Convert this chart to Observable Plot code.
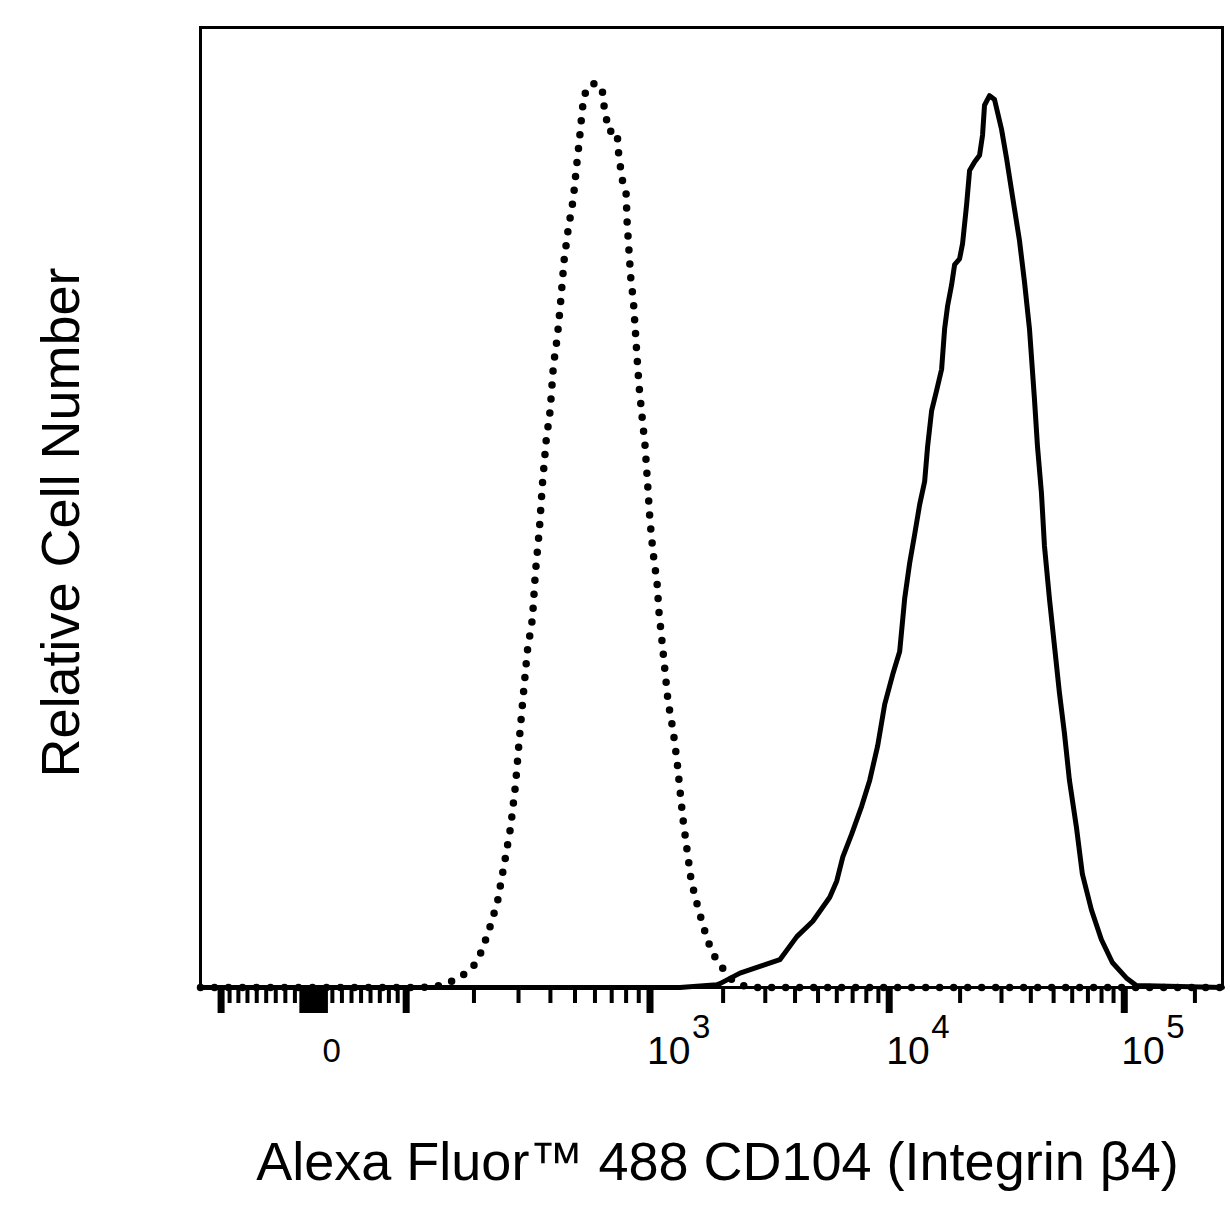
<!DOCTYPE html>
<html>
<head>
<meta charset="utf-8">
<script src="https://cdn.jsdelivr.net/npm/d3@7"></script>
<script src="https://cdn.jsdelivr.net/npm/@observablehq/plot@0.6"></script>
<style>
  html, body { margin: 0; padding: 0; background: #fff; }
  svg { display: block; }
</style>
</head>
<body>
<div id="chart"></div>
<script>
// ---- Data (fluorescence intensity vs relative cell number) ----
const isotypeFluor = [-126, 120, 145, 168, 193, 208, 228, 248, 266, 279,
  292, 302, 313, 325, 340, 349, 362, 372, 385, 399,
  411, 426, 437, 453, 470, 492, 505, 520, 534, 544,
  585, 641, 647, 665, 678, 736, 743, 757, 771, 800,
  808, 823, 838, 854, 870, 886, 903, 928, 955, 973,
  1000, 1029, 1068, 1088, 1120, 1152, 1185, 1242, 1290, 1327,
  1365, 1417, 1472, 1529, 1603, 1714, 1815, 1978, 2176, 2418,
  2800, 262144];
const isotypeCount = [0, 0, 0.2, 0.8, 1.8, 2.9, 5.7, 8.9, 13.4, 16.6,
  21.1, 25.8, 30.4, 35.1, 38.4, 43.1, 47.7, 52.4, 57.0, 60.1,
  64.8, 67.8, 70.9, 75.8, 79.0, 82.1, 85.1, 88.2, 91.4, 93.0,
  94.2, 93.8, 92.3, 90.7, 89.2, 89.2, 87.3, 85.7, 84.2, 82.7,
  79.6, 76.5, 73.4, 71.9, 68.8, 65.6, 62.6, 59.5, 56.4, 53.3,
  48.6, 45.3, 42.2, 39.1, 36.0, 32.9, 29.8, 26.8, 23.6, 20.5,
  17.5, 14.4, 11.3, 9.5, 7.6, 5.1, 3.5, 2.1, 0.8, 0.2,
  0, 0];

const cd104Fluor = [-126, 1327, 1886, 1941, 2351, 2931, 3453, 4070, 4752, 5603,
  5999, 6363, 6940, 7647, 8270, 8939, 9569, 10346, 11077, 11630,
  12211, 12824, 13464, 14140, 14560, 15141, 15897, 16691, 17188, 17699,
  18406, 18956, 19901, 20492, 21311, 21948, 23047, 24202, 24920, 25406,
  26680, 28017, 30009, 31514, 33414, 35784, 37579, 39466, 41440, 42679,
  44383, 45710, 47999, 50410, 52934, 55590, 58383, 62527, 66307, 72429,
  79866, 88959, 102025, 112528, 262144];
const cd104Count = [0, 0, 0.3, 0.4, 1.5, 2.3, 2.9, 5.3, 6.9, 9.4,
  11.1, 13.6, 16.0, 18.9, 21.6, 25.2, 29.5, 32.6, 35.0, 40.5,
  44.2, 47.2, 50.3, 52.7, 56.4, 60.1, 62.2, 64.4, 68.6, 71.0,
  73.2, 75.3, 75.9, 77.5, 81.5, 85.1, 86.0, 86.7, 88.8, 91.9,
  92.9, 92.5, 89.4, 86.4, 82.4, 77.8, 73.5, 68.6, 61.3, 56.4,
  51.5, 46.0, 40.5, 35.6, 30.7, 26.5, 21.6, 16.7, 11.8, 8.1,
  5.0, 2.6, 1.0, 0.2, 0];

const xExtent = [-126, 262144];
const majorTicks = [-100, 100, 1000, 10000, 100000];
const zeroTicks = [-10, 0, 10];
const minorTicks = [-90, -80, -70, -60, -50, -40, -30, -20,
  20, 30, 40, 50, 60, 70, 80, 90,
  200, 300, 400, 500, 600, 700, 800, 900,
  2000, 3000, 4000, 5000, 6000, 7000, 8000, 9000,
  20000, 30000, 40000, 50000, 60000, 70000, 80000, 90000,
  200000];
const tickLabelValues = [0, 1000, 10000, 100000];
const tickLabelBase = ["0", "10", "10", "10"];
const tickLabelExp = ["", "3", "4", "5"];
const xTitle = "Alexa Fluor™ 488 CD104 (Integrin β4)";
const yTitle = "Relative Cell Number";

// ---- Biexponential (logicle-like) display transform ----
const BA = 35, BB = 0.0098, BC = 90, BD = 0.00827;
function biex(y) {
  const s = Math.sign(y), t = Math.abs(y);
  return s * (BA * (Math.exp(BB * t) - 1) + BC * (1 - Math.exp(-BD * t)));
}
function T(v) {
  const s = Math.sign(v), a = Math.abs(v);
  let lo = 0, hi = 2000;
  for (let i = 0; i < 60; i++) {
    const m = (lo + hi) / 2;
    if (biex(m) < a) lo = m; else hi = m;
  }
  return s * (lo + hi) / 2;
}

const iso = isotypeFluor.map((x, i) => ({x, y: isotypeCount[i]}));
const pos = cd104Fluor.map((x, i) => ({x, y: cd104Count[i]}));
const labels = tickLabelValues.map((v, i) => ({v, base: tickLabelBase[i], exp: tickLabelExp[i]}));

const font = "'Liberation Sans', Arial, Helvetica, sans-serif";

const chart = Plot.plot({
  width: 1230,
  height: 1230,
  marginLeft: 200,
  marginRight: 8,
  marginTop: 27,
  marginBottom: 243,
  style: {fontFamily: font, background: "white", color: "black"},
  x: {type: "linear", domain: xExtent.map(T), label: null},
  y: {domain: [0, 100], axis: null, label: null},
  marks: [
    Plot.line(iso, {x: d => T(d.x), y: "y", stroke: "black", strokeWidth: 7.5,
      strokeDasharray: "0 14", strokeLinecap: "round", strokeLinejoin: "round"}),
    Plot.line(pos, {x: d => T(d.x), y: "y", stroke: "black", strokeWidth: 5,
      strokeLinejoin: "round"}),
    Plot.frame({stroke: "black", strokeWidth: 3}),
    Plot.axisX({ticks: minorTicks.map(T), tickSize: 16, strokeWidth: 4,
      tickFormat: () => "", label: null}),
    Plot.axisX({ticks: majorTicks.map(T), tickSize: 26, strokeWidth: 7,
      tickFormat: () => "", label: null}),
    Plot.axisX({ticks: zeroTicks.map(T), tickSize: 26, strokeWidth: 10,
      tickFormat: () => "", label: null}),
    Plot.text(labels, {filter: d => d.exp === "", x: d => T(d.v), text: "base",
      frameAnchor: "bottom", textAnchor: "middle", dx: 18, dy: 74, fontSize: 33, fill: "black"}),
    Plot.text(labels, {filter: d => d.exp !== "", x: d => T(d.v), text: "base",
      frameAnchor: "bottom", textAnchor: "start", dx: -3, dy: 76, fontSize: 39, fill: "black"}),
    Plot.text(labels, {filter: d => d.exp !== "", x: d => T(d.v), text: "exp",
      frameAnchor: "bottom", textAnchor: "start", dx: 42, dy: 50, fontSize: 33, fill: "black"}),
    Plot.text([xTitle], {frameAnchor: "bottom", textAnchor: "middle", dx: 6, dy: 192, fontSize: 54, fill: "black"}),
    Plot.text([yTitle], {frameAnchor: "left", textAnchor: "middle", rotate: -90, dx: -139, dy: 15, fontSize: 54, fill: "black"})
  ]
});
document.getElementById("chart").appendChild(chart);
</script>
</body>
</html>
